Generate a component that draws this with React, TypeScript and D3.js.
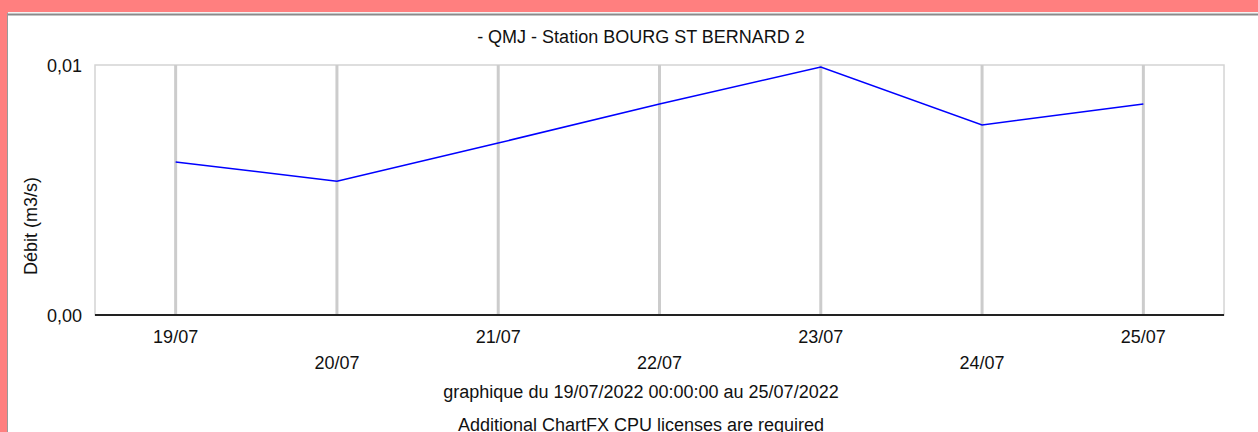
import * as d3 from "d3";
import React from "react";

const days: string[] = ["19/07", "20/07", "21/07", "22/07", "23/07", "24/07", "25/07"];
const debit: number[] = [0.00612, 0.00535, 0.00688, 0.00844, 0.00992, 0.0076, 0.00844];
const yTicks: number[] = [0, 0.01];

const title = "- QMJ - Station BOURG ST BERNARD 2";
const yLabel = "Débit (m3/s)";
const footer1 = "graphique du 19/07/2022 00:00:00 au 25/07/2022";
const footer2 = "Additional ChartFX CPU licenses are required";

const W = 1258;
const H = 432;
const plot = { left: 95, top: 65, right: 1224, bottom: 315 };
const font = "'Liberation Sans', Arial, sans-serif";

function App() {
    const x = d3.scalePoint<string>().domain(days).range([plot.left, plot.right]).padding(0.5);
    const y = d3.scaleLinear().domain([0, 0.01]).range([plot.bottom, plot.top]);

    const line = d3.line<number>()
        .x((_, i) => x(days[i]) as number)
        .y(d => y(d));

    const fmt = (v: number) => v.toFixed(2).replace(".", ",");

    return (
        <div style={{ position: "fixed", left: 0, top: 0 }}>
            <svg width={W} height={H} style={{ display: "block" }} fontFamily={font}>
                {/* frame */}
                <rect x={0} y={0} width={W} height={H} fill="#ff7f7f" />
                <rect x={8} y={13} width={W - 8} height={H - 13} fill="#ffffff" />
                <line x1={8} x2={W} y1={14.5} y2={14.5} stroke="#8a8a8a" strokeWidth={2} />
                <line x1={8} x2={W} y1={12.5} y2={12.5} stroke="#f4f4f4" strokeWidth={1} />
                <line x1={7.5} x2={7.5} y1={13} y2={H} stroke="#9a9a9a" strokeWidth={1} />

                <text x={641} y={43} textAnchor="middle" fontSize={18} fill="#111">{title}</text>

                {/* plot border */}
                <rect x={plot.left} y={plot.top} width={plot.right - plot.left} height={plot.bottom - plot.top}
                    fill="none" stroke="#d4d4d4" strokeWidth={1.5} />

                {/* vertical grid */}
                {days.map(d => (
                    <line key={d} x1={x(d)} x2={x(d)} y1={plot.top} y2={plot.bottom}
                        stroke="#cccccc" strokeWidth={3} />
                ))}

                <line x1={plot.left} x2={plot.right} y1={plot.bottom} y2={plot.bottom} stroke="#222" strokeWidth={2} />

                {yTicks.map(t => (
                    <text key={t} x={82} y={y(t) + 7} textAnchor="end" fontSize={18} fill="#111">{fmt(t)}</text>
                ))}

                {days.map((d, i) => (
                    <text key={d} x={x(d)} y={i % 2 === 0 ? 343 : 369} textAnchor="middle" fontSize={18} fill="#111">{d}</text>
                ))}

                <text transform="translate(37,226) rotate(-90)" textAnchor="middle" fontSize={18} fill="#111">{yLabel}</text>

                <path d={line(debit) || ""} fill="none" stroke="#0000ff" strokeWidth={1.5} />

                <text x={641} y={398} textAnchor="middle" fontSize={18} fill="#111">{footer1}</text>
                <text x={641} y={431} textAnchor="middle" fontSize={18} fill="#111">{footer2}</text>
            </svg>
        </div>
    );
}

export default App;
